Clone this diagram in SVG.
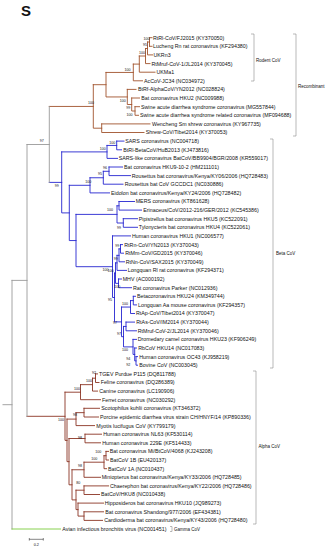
<svg xmlns="http://www.w3.org/2000/svg" width="327" height="550" viewBox="0 0 327 550">
<style>
.t{font-family:"Liberation Sans",Arial,sans-serif;font-size:5.3px;fill:#111}
.s{font-family:"Liberation Sans",Arial,sans-serif;font-size:3.6px;fill:#111;text-anchor:middle}
.g{font-family:"Liberation Sans",Arial,sans-serif;font-size:4.5px;fill:#111}
.br{fill:none;stroke-width:0.9;stroke-linecap:square}
.rc{stroke:#a0522d}.bc{stroke:#2626d0}.ac{stroke:#8b3424}.gr{stroke:#9a9a9a}.gm{stroke:#7ccc3c}
.bk{fill:none;stroke:#8c8c8c;stroke-width:0.6}
</style>
<rect width="327" height="550" fill="#fff"/>
<text x="21" y="16" font-family="Liberation Sans,Arial,sans-serif" font-size="15" font-weight="bold" fill="#111">S</text>
<g id="connectors">
<path class="br rc" d="M149.5 37.7V46.3M149.5 37.7H152M149.5 46.3H152M147.5 42V54.9H152.5M147.5 42H149.5M145.5 48.5V63.6H150M145.5 48.5H147.5M139.3 56V72.2H155M139.3 56H145.5M133.3 64.1V80.8H142.5M133.3 64.1H139.3M135 106.7V115.3H138.5M135 106.7H139.5M131.7 98V111H135M131.7 98H139.5M127.3 89.4V104.5H131.7M127.3 89.4H136M106 72.45V96.95H127.3M106 72.45H133.3M101.7 123.9V132.5H144M101.7 123.9H150M93.3 84.7V128.2H101.7M93.3 84.7H106M49.3 106.45H93.3"/>
<path class="br bc" d="M116.7 141.1V149.8H121.5M116.7 141.1H124M107 145.45V158.4H117.5M107 145.45H116.7M109 167V175.6H130.5M109 167H122.5M103.3 171.3V184.2H123M103.3 171.3H109M90 177.75V192.9H109.5M90 177.75H103.3M119 201.5V210.1H141.5M119 201.5H134.5M123.3 218.7V227.3H137.5M123.3 218.7H137.5M117 205.8V223H123.3M117 205.8H119M120.5 244.6V253.2H123.5M120.5 244.6H122.5M119 248.9V261.8H124.5M119 248.9H120.5M117 255.35V270.4H126.5M117 255.35H119M118.5 279V287.7H131.5M118.5 279H121.5M115.5 262.9V283.35H118.5M115.5 262.9H117M133.3 296.3V304.9H136.5M133.3 296.3H135.5M130.5 300.6V313.5H134.5M130.5 300.6H133.3M126 322.1V330.8H136.5M126 322.1H134.5M136 356.6V365.2H137.5M136 356.6H137.5M134.7 348V360.9H136M134.7 348H136.5M133 339.4V354.45H134.7M133 339.4H136.5M123.5 326.45V346.9H133M123.5 326.45H126M121.5 307.05V336.7H123.5M121.5 307.05H130.5M114.5 273.1V321.9H121.5M114.5 273.1H115.5M112.5 235.9V297.5H114.5M112.5 235.9H130.5M76 214.4V266.7H112.5M76 214.4H117M69.3 185.3V240.55H76M69.3 185.3H90M61.7 151.9V212.9H69.3M61.7 151.9H107M49.3 182.4H61.7"/>
<path class="br ac" d="M95.5 373.9V382.5H99M95.5 373.9H97.5M92.5 378.2V391.1H97.5M92.5 378.2H95.5M80.5 384.65V399.7H100.5M80.5 384.65H92.5M84 408.3V417H98.5M84 408.3H99.5M76 412.65V425.6H94.5M76 412.65H84M85 434.2V442.8H100.5M85 434.2H101.5M106 451.4V460H108.5M106 451.4H108.5M104 455.7V468.7H106.5M104 455.7H106M84 462.2V477.3H100.5M84 462.2H104M84 485.9V494.5H99.5M84 485.9H108.5M84 511.8V520.4H102.5M84 511.8H103.5M78 503.1V516.1H84M78 503.1H103.5M76 490.2V509.6H78M76 490.2H84M72 469.75V499.9H76M72 469.75H84M69 438.5V484.8H72M69 438.5H85M67 419.1V461.65H69M67 419.1H76M65 392.2V440.4H67M65 392.2H80.5M27 416.3H65"/>
<path class="br gr" d="M27 144.5V416.3M27 144.5H49.3M49.3 106.45V182.4M12 280.4V529M12 280.4H27M3 404.7H12"/>
<path class="br gm" d="M12 529H60.5"/>
<path class="bk" d="M251 34H254V81H251M293 34H296V136H293M270 139H273V368H270M253 371H256V524H253M170 526.5H172V531.5H170"/>
<path fill="none" stroke="#333" stroke-width="0.6" d="M29.3 539.3H43.3M29.3 538V540.6M43.3 538V540.6"/>
</g>
<g id="support">
<text class="s" x="146.5" y="39.8">100</text>
<text class="s" x="145" y="45.8">95</text>
<text class="s" x="142" y="54.3">100</text>
<text class="s" x="127.5" y="70.8">100</text>
<text class="s" x="122.7" y="102.3">100</text>
<text class="s" x="128.3" y="109.3">99</text>
<text class="s" x="129.5" y="116.3">100</text>
<text class="s" x="91" y="104.3">100</text>
<text class="s" x="41.7" y="142">97</text>
<text class="s" x="112.3" y="143.6">100</text>
<text class="s" x="102.7" y="149.6">100</text>
<text class="s" x="105" y="168.6">96</text>
<text class="s" x="100" y="175.3">95</text>
<text class="s" x="88.3" y="183">100</text>
<text class="s" x="56.7" y="187">99</text>
<text class="s" x="110" y="211.3">100</text>
<text class="s" x="119" y="228.6">99</text>
<text class="s" x="117.3" y="247">99</text>
<text class="s" x="115.7" y="260.3">99</text>
<text class="s" x="105.5" y="271.3">100</text>
<text class="s" x="110.5" y="271.8">100</text>
<text class="s" x="117.3" y="288">100</text>
<text class="s" x="110" y="300.6">95</text>
<text class="s" x="125" y="304.6">100</text>
<text class="s" x="115" y="324">97</text>
<text class="s" x="119" y="335.3">97</text>
<text class="s" x="125" y="351.3">100</text>
<text class="s" x="128.3" y="359.6">94</text>
<text class="s" x="128.3" y="365.6">92</text>
<text class="s" x="94" y="374.3">92</text>
<text class="s" x="89" y="382.3">100</text>
<text class="s" x="77" y="389.6">100</text>
<text class="s" x="75" y="415.8">98</text>
<text class="s" x="61" y="421.3">100</text>
<text class="s" x="80" y="439.3">98</text>
<text class="s" x="98.3" y="453">100</text>
<text class="s" x="94.3" y="459.6">100</text>
<text class="s" x="80" y="467">98</text>
<text class="s" x="78.3" y="484.3">80</text>
<text x="36.3" y="546" font-family="Liberation Sans,Arial,sans-serif" font-size="3.8" text-anchor="middle" fill="#111">0.2</text>
</g>
<g id="n0"><text class="t" x="153" y="39.6">RtRl-CoV/FJ2015 (KY370050)</text></g>
<g id="n1"><text class="t" x="153" y="48.2">Lucheng Rn rat coronavirus (KF294380)</text></g>
<g id="n2"><text class="t" x="153.5" y="56.8">UKRn3</text></g>
<g id="n3"><text class="t" x="151.5" y="65.5">RtMruf-CoV-1/JL2014 (KY370045)</text></g>
<g id="n4"><text class="t" x="156.5" y="74.1">UKMa1</text></g>
<g id="n5"><text class="t" x="144" y="82.7">AcCoV-JC34 (NC034972)</text></g>
<g id="n6"><text class="t" x="138" y="91.3">BtRf-AlphaCoV/YN2012 (NC028824)</text></g>
<g id="n7"><text class="t" x="141.3" y="99.9">Bat coronavirus HKU2 (NC009988)</text></g>
<g id="n8"><text class="t" x="141" y="108.6">Swine acute diarrhea syndrome coronavirus (MG557844)</text></g>
<g id="n9"><text class="t" x="140" y="117.2">Swine acute diarrhea syndrome related coronavirus (MF094688)</text></g>
<g id="n10"><text class="t" x="152" y="125.8">Wencheng Sm shrew coronavirus (KY967735)</text></g>
<g id="n11"><text class="t" x="145.7" y="134.4">Shrew-CoV/Tibet2014 (KY370053)</text></g>
<g id="n12"><text class="t" x="125.3" y="143">SARS coronavirus (NC004718)</text></g>
<g id="n13"><text class="t" x="123.3" y="151.7">BtRl-BetaCoV/HuB2013 (KJ473816)</text></g>
<g id="n14"><text class="t" x="118.7" y="160.3">SARS-like coronavirus BatCoV/BB9904/BGR/2008 (KR559017)</text></g>
<g id="n15"><text class="t" x="124" y="168.9">Bat coronavirus HKU9-10-2 (HM211101)</text></g>
<g id="n16"><text class="t" x="131.7" y="177.5">Rousettus bat coronavirus/Kenya/KY06/2006 (HQ728483)</text></g>
<g id="n17"><text class="t" x="124.7" y="186.1">Rousettus bat CoV GCCDC1 (NC030886)</text></g>
<g id="n18"><text class="t" x="111" y="194.8">Eidolon bat coronavirus/Kenya/KY24/2006 (HQ728482)</text></g>
<g id="n19"><text class="t" x="135.7" y="203.4">MERS coronavirus (KT861628)</text></g>
<g id="n20"><text class="t" x="143.3" y="212">Erinaceus/CoV/2012-216/GER/2012 (KC545386)</text></g>
<g id="n21"><text class="t" x="138.7" y="220.6">Pipistrellus bat coronavirus HKU5 (KC522091)</text></g>
<g id="n22"><text class="t" x="138.7" y="229.2">Tylonycteris bat coronavirus HKU4 (KC522061)</text></g>
<g id="n23"><text class="t" x="132" y="237.8">Human coronavirus HKU1 (NC006577)</text></g>
<g id="n24"><text class="t" x="124.3" y="246.5">RtRn-CoV/YN2013 (KY370043)</text></g>
<g id="n25"><text class="t" x="125.3" y="255.1">RtMm-CoV/GD2015 (KY370046)</text></g>
<g id="n26"><text class="t" x="125.7" y="263.7">RtNn-CoV/SAX2015 (KY370049)</text></g>
<g id="n27"><text class="t" x="127.7" y="272.3">Longquan Rl rat coronavirus (KF294371)</text></g>
<g id="n28"><text class="t" x="122.7" y="280.9">MHV (AC000192)</text></g>
<g id="n29"><text class="t" x="133" y="289.6">Rat coronavirus Parker (NC012936)</text></g>
<g id="n30"><text class="t" x="137" y="298.2">Betacoronavirus HKU24 (KM349744)</text></g>
<g id="n31"><text class="t" x="138" y="306.8">Longquan Aa mouse coronavirus (KF294357)</text></g>
<g id="n32"><text class="t" x="136" y="315.4">RtAp-CoV/Tibet2014 (KY370047)</text></g>
<g id="n33"><text class="t" x="136.3" y="324">RtAs-CoV/IM2014 (KY370044)</text></g>
<g id="n34"><text class="t" x="137.7" y="332.7">RtMruf-CoV-2/JL2014 (KY370046)</text></g>
<g id="n35"><text class="t" x="137.7" y="341.3">Dromedary camel coronavirus HKU23 (KF906249)</text></g>
<g id="n36"><text class="t" x="138.3" y="349.9">RbCoV HKU14 (NC017083)</text></g>
<g id="n37"><text class="t" x="139.3" y="358.5">Human coronavirus OC43 (KJ958219)</text></g>
<g id="n38"><text class="t" x="139.3" y="367.1">Bovine CoV (NC003045)</text></g>
<g id="n39"><text class="t" x="99" y="375.8">TGEV Purdue P115 (DQ811788)</text></g>
<g id="n40"><text class="t" x="100.7" y="384.4">Feline coronavirus (DQ286389)</text></g>
<g id="n41"><text class="t" x="99.3" y="393">Canine coronavirus (LC190906)</text></g>
<g id="n42"><text class="t" x="102" y="401.6">Ferret coronavirus (NC030292)</text></g>
<g id="n43"><text class="t" x="101.3" y="410.2">Scotophilus kuhlii coronavirus (KT346372)</text></g>
<g id="n44"><text class="t" x="100" y="418.9">Porcine epidemic diarrhea virus strain CH/HNYF/14 (KP890336)</text></g>
<g id="n45"><text class="t" x="96.3" y="427.5">Myotis lucifugus CoV (KY799179)</text></g>
<g id="n46"><text class="t" x="103.3" y="436.1">Human coronavirus NL63 (KF530114)</text></g>
<g id="n47"><text class="t" x="102.3" y="444.7">Human coronavirus 229E (KF514433)</text></g>
<g id="n48"><text class="t" x="109.7" y="453.3">Bat coronavirus Mi/BtCoV/4068 (KJ243208)</text></g>
<g id="n49"><text class="t" x="110" y="461.9">BatCoV 1B (EU420137)</text></g>
<g id="n50"><text class="t" x="108" y="470.6">BatCoV 1A (NC010437)</text></g>
<g id="n51"><text class="t" x="101.7" y="479.2">Miniopterus bat coronavirus/Kenya/KY33/2006 (HQ728485)</text></g>
<g id="n52"><text class="t" x="110" y="487.8">Chaerephon bat coronavirus/Kenya/KY22/2006 (HQ728486)</text></g>
<g id="n53"><text class="t" x="101" y="496.4">BatCoV/HKU8 (NC010438)</text></g>
<g id="n54"><text class="t" x="104.7" y="505">Hipposideros bat coronavirus HKU10 (JQ989273)</text></g>
<g id="n55"><text class="t" x="105.3" y="513.7">Bat coronavirus Shandong/977/2006 (EF434381)</text></g>
<g id="n56"><text class="t" x="104.3" y="522.3">Cardioderma bat coronavirus/Kenya/KY43/2006 (HQ728480)</text></g>
<g id="n57"><text class="t" x="62.3" y="530.9">Avian infectious bronchitis virus (NC001451)</text></g>
<g id="clades">
<text class="g" x="256" y="61.5">Rodent CoV</text>
<text class="g" x="298" y="88">Recombinant</text>
<text class="g" x="276" y="255">Beta CoV</text>
<text class="g" x="258.5" y="448">Alpha CoV</text>
<text class="g" x="174" y="530.5">Gamma CoV</text>
</g>
</svg>
